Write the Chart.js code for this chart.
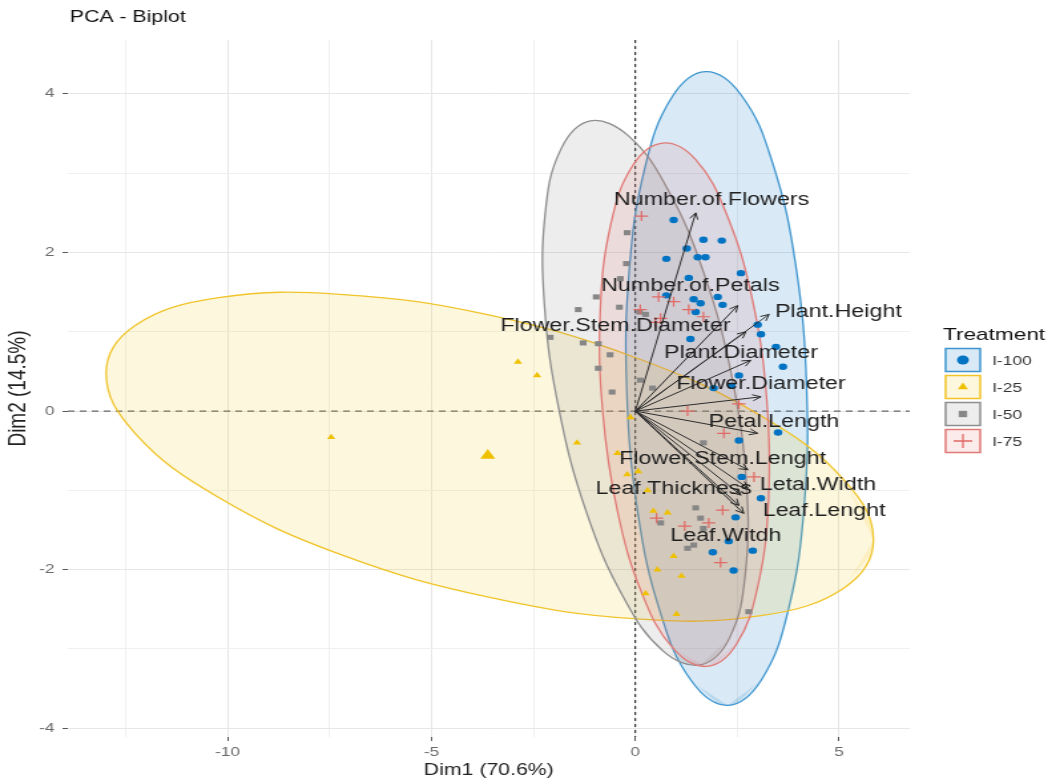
<!DOCTYPE html>
<html>
<head>
<meta charset="utf-8">
<script src="https://cdn.jsdelivr.net/npm/chart.js@4.4.1/dist/chart.umd.min.js"></script>
<style>
  html, body { margin: 0; padding: 0; background: #fff; overflow: hidden; }
  /* the original figure is stretched sideways, so draw narrow and widen it */
  #wrap { width: 794px; height: 783px; transform: scaleX(1.33); transform-origin: 0 0; }
</style>
</head>
<body>
<div id="wrap"><canvas id="Biplot" width="794" height="783"></canvas></div>
<script>

// groups
const groups = ['I-100', 'I-25', 'I-50', 'I-75'];
const groupColors = ['#0073C2', '#EFC000', '#868686', '#E06A66'];
const ellipseLines = ['#3D95CF', '#F0C42A', '#8E8E8E', '#E07A76'];
const fillColors = ['rgba(0,115,194,0.15)', 'rgba(239,192,0,0.13)', 'rgba(134,134,134,0.15)', 'rgba(224,98,94,0.13)'];
const pointStyles = ['circle', 'triangle', 'rect', 'cross'];

// individuals
const i100X = [0.94,1.67,2.12,0.76,1.53,1.72,1.26,2.59,1.31,0.76,1.43,1.60,2.02,2.14,1.48,3.00,3.08,1.35,3.45,3.62,2.54,1.92,2.36,3.50,2.54,2.61,3.08,2.46,2.29,2.88,1.90,2.41];
const i100Y = [2.41,2.16,2.15,1.92,1.94,1.94,2.05,1.74,1.68,1.46,1.41,1.36,1.44,1.34,1.25,1.09,0.97,0.91,0.81,0.56,0.45,0.29,0.32,-0.27,-0.37,-0.83,-1.10,-1.34,-1.64,-1.76,-1.78,-2.01];

const i25X = [-7.46,-2.88,-2.41,-1.43,-0.12,-0.44,-0.20,0.07,0.30,0.44,0.79,0.94,0.54,1.13,0.25,1.01];
const i25Y = [-0.33,0.62,0.45,-0.40,-0.08,-0.53,-0.80,-0.76,-1.00,-1.26,-1.28,-1.83,-2.00,-2.08,-2.30,-2.56];

const i50X = [-0.20,-0.22,-0.37,-0.96,-1.40,-0.39,0.10,0.25,-2.09,-1.28,-0.91,-0.91,-0.62,0.12,0.42,-0.57,1.67,1.48,0.62,1.60,1.67,1.28,1.43,2.78];
const i50Y = [2.25,1.86,1.67,1.44,1.28,1.31,1.25,1.22,0.93,0.86,0.85,0.54,0.71,0.39,0.29,0.24,-0.40,-1.22,-1.41,-1.35,-1.48,-1.73,-1.69,-2.53];

const i75X = [0.15,0.57,0.94,1.67,1.31,0.12,0.62,0.49,1.28,2.54,2.17,2.91,2.14,1.21,0.52,1.80,2.09];
const i75Y = [2.46,1.44,1.38,1.19,1.28,1.28,1.17,1.12,0.00,0.09,-0.28,-0.83,-1.25,-1.45,-1.35,-1.41,-1.91];

// group mean (only the I-25 one shows)
const meanX = [-3.62];
const meanY = [-0.56];

// concentration ellipses, outline points (closed loops)
const ell100X = [2.27,3.09,3.75,4.14,4.20,3.93,3.36,2.59,1.72,0.90,0.24,-0.15,-0.21,0.06,0.63,1.40];
const ell100Y = [-3.71,-3.39,-2.51,-1.21,0.32,1.85,3.14,3.99,4.28,3.96,3.08,1.78,0.24,-1.28,-2.57,-3.42];

const ell25X = [5.84,5.12,3.08,0.03,-3.57,-7.17,-10.22,-12.27,-12.98,-12.27,-10.22,-7.17,-3.57,0.03,3.08,5.12];
const ell25Y = [-1.63,-0.87,-0.06,0.67,1.21,1.47,1.43,1.08,0.48,-0.28,-1.09,-1.82,-2.35,-2.62,-2.58,-2.23];

const ell50X = [1.60,2.31,2.70,2.72,2.36,1.68,0.78,-0.19,-1.11,-1.82,-2.21,-2.23,-1.87,-1.19,-0.29,0.69];
const ell50Y = [-3.20,-2.86,-2.04,-0.88,0.45,1.74,2.81,3.48,3.66,3.31,2.50,1.34,0.01,-1.29,-2.35,-3.03];

const ell75X = [1.75,2.48,3.01,3.27,3.22,2.86,2.24,1.48,0.67,-0.06,-0.60,-0.86,-0.80,-0.44,0.17,0.94];
const ell75Y = [-3.22,-2.94,-2.19,-1.10,0.17,1.43,2.48,3.17,3.38,3.10,2.36,1.27,-0.01,-1.26,-2.31,-3.00];

// variables (arrows)
const varNames = ['Number.of.Flowers','Number.of.Petals','Plant.Height','Flower.Stem.Diameter','Plant.Diameter','Flower.Diameter','Petal.Length','Flower.Stem.Lenght','Letal.Width','Leaf.Thickness','Leaf.Lenght','Leaf.Witdh'];
const varX = [1.48,2.51,3.28,2.71,2.83,3.08,3.00,2.76,2.76,2.59,2.66,2.54];
const varY = [2.50,1.33,1.22,1.00,0.64,0.18,-0.28,-0.74,-0.97,-1.06,-1.29,-1.19];
const labelX = [1.87,1.35,4.98,-0.49,2.59,3.08,3.40,2.14,4.48,0.94,4.63,2.22];
const labelY = [2.66,1.57,1.25,1.07,0.73,0.34,-0.14,-0.61,-0.93,-0.98,-1.26,-1.58];

// axes
const xTicks = [-12.5,-10,-7.5,-5,-2.5,0,2.5,5];
const xTickLabels = ['','-10','','-5','','0','','5'];
const yTicks = [-4,-3,-2,-1,0,1,2,3,4];
const yTickLabels = ['-4','','-2','','0','','2','','4'];

const FONT = '"Liberation Sans", Arial, sans-serif';

function pairUp(xs, ys) {
    return xs.map((v, i) => ({x: v, y: ys[i]}));
}

function ellipseSet(i, xs, ys) {
    // close the loop: one point of overlap on each end keeps the curve smooth at the seam
    const pts = pairUp(xs, ys);
    const n = pts.length;
    const data = [pts[n-1]].concat(pts, [pts[0], pts[1]]);
    const last = data.length - 1;
    return {
        type: 'line',
        label: groups[i] + ' ellipse',
        data: data,
        borderColor: ellipseLines[i],
        backgroundColor: fillColors[i],
        borderWidth: 1.3,
        pointRadius: 0,
        tension: 0.4,
        fill: 'shape',
        segment: {
            borderColor: (c) => (c.p0DataIndex === 0 || c.p1DataIndex === last ? 'rgba(0,0,0,0)' : undefined)
        },
        order: 13 - i
    };
}

function pointSet(i, xs, ys, r) {
    return {
        type: 'scatter',
        label: groups[i],
        data: pairUp(xs, ys),
        pointStyle: pointStyles[i],
        pointRadius: r,
        backgroundColor: groupColors[i],
        borderColor: groupColors[i],
        borderWidth: pointStyles[i] == 'cross' ? 1.2 : 0,
        order: 3 - i
    };
}

const biplotDecor = {
    id: 'biplotDecor',
    beforeDatasetsDraw(chart) {
        const {ctx, chartArea: a, scales: {x, y}} = chart;
        const x0 = x.getPixelForValue(0), y0 = y.getPixelForValue(0);
        ctx.save();
        ctx.strokeStyle = '#444';
        ctx.lineWidth = 1;
        ctx.setLineDash([5, 4]);
        ctx.beginPath(); ctx.moveTo(a.left, y0); ctx.lineTo(a.right, y0); ctx.stroke();
        ctx.strokeStyle = '#111';
        ctx.setLineDash([3, 3]);
        ctx.beginPath(); ctx.moveTo(x0, a.top); ctx.lineTo(x0, a.bottom); ctx.stroke();
        ctx.restore();
    },
    afterDatasetsDraw(chart) {
        const {ctx, scales: {x, y}} = chart;
        const ox = x.getPixelForValue(0), oy = y.getPixelForValue(0);
        ctx.save();
        ctx.strokeStyle = '#2b2b2b';
        ctx.lineWidth = 1;
        for (let i = 0; i < varNames.length; i++) {
            const px = x.getPixelForValue(varX[i]), py = y.getPixelForValue(varY[i]);
            ctx.beginPath(); ctx.moveTo(ox, oy); ctx.lineTo(px, py); ctx.stroke();
            const ang = Math.atan2(py - oy, px - ox);
            ctx.beginPath();
            ctx.moveTo(px - 7*Math.cos(ang - 0.45), py - 7*Math.sin(ang - 0.45));
            ctx.lineTo(px, py);
            ctx.lineTo(px - 7*Math.cos(ang + 0.45), py - 7*Math.sin(ang + 0.45));
            ctx.stroke();
        }
        ctx.fillStyle = '#1e1e1e';
        ctx.font = '17.5px ' + FONT;
        ctx.textAlign = 'center';
        ctx.textBaseline = 'middle';
        for (let i = 0; i < varNames.length; i++) {
            ctx.fillText(varNames[i], x.getPixelForValue(labelX[i]), y.getPixelForValue(labelY[i]));
        }
        ctx.restore();
    },
    afterDraw(chart) {
        const ctx = chart.ctx;
        ctx.save();
        // title
        ctx.fillStyle = '#111';
        ctx.font = '16px ' + FONT;
        ctx.textAlign = 'left';
        ctx.textBaseline = 'middle';
        ctx.fillText('PCA - Biplot', 52.5, 18);
        // legend
        ctx.font = '17px ' + FONT;
        ctx.fillText('Treatment', 709, 335);
        ctx.font = '13px ' + FONT;
        for (let i = 0; i < groups.length; i++) {
            const cy = 360 + i*27;
            ctx.fillStyle = fillColors[i];
            ctx.strokeStyle = ellipseLines[i];
            ctx.lineWidth = 1.5;
            ctx.fillRect(711, cy - 11.5, 26, 23);
            ctx.strokeRect(711, cy - 11.5, 26, 23);
            ctx.fillStyle = groupColors[i];
            ctx.strokeStyle = groupColors[i];
            ctx.lineWidth = 1.3;
            Chart.helpers.drawPoint(ctx, {pointStyle: pointStyles[i], radius: pointStyles[i] == 'cross' ? 7 : 4.5, borderWidth: pointStyles[i] == 'cross' ? 1.3 : 0, rotation: 0}, 724, cy);
            ctx.fillStyle = '#333';
            ctx.fillText(groups[i], 746, cy + 1);
        }
        ctx.restore();
    }
};

const gridColor = (ctx) => (ctx.tick && ctx.tick.label !== '' ? '#E6E6E6' : '#F0F0F0');
const tickColor = (ctx) => (ctx.tick && ctx.tick.label !== '' ? '#555' : 'rgba(0,0,0,0)');

const biplot_chart = new Chart(document.getElementById('Biplot'), {
    type: 'scatter',
    data: {
        datasets: [
            pointSet(0, i100X, i100Y, 3.2),
            pointSet(1, i25X, i25Y, 3.6),
            pointSet(2, i50X, i50Y, 3.6),
            pointSet(3, i75X, i75Y, 5),
            Object.assign(pointSet(1, meanX, meanY, 6.5), {label: 'I-25 mean', order: 1}),
            ellipseSet(0, ell100X, ell100Y),
            ellipseSet(1, ell25X, ell25Y),
            ellipseSet(2, ell50X, ell50Y),
            ellipseSet(3, ell75X, ell75Y)
        ]
    },
    options: {
        responsive: false,
        animation: false,
        layout: { padding: { top: 40, right: 110, left: 0, bottom: 0 } },
        scales: {
            x: {
                type: 'linear',
                min: -13.92,
                max: 6.73,
                afterBuildTicks: (s) => { s.ticks = xTicks.map(v => ({value: v})); },
                afterFit: (s) => { s.height = 46; },
                ticks: {
                    autoSkip: false,
                    maxRotation: 0,
                    padding: 4,
                    color: '#6a6a6a',
                    font: { family: FONT, size: 13 },
                    callback: (v, i) => xTickLabels[i]
                },
                grid: { color: gridColor, tickColor: tickColor, tickLength: 4, lineWidth: 1 },
                border: { display: false },
                title: { display: true, text: 'Dim1 (70.6%)', color: '#222', font: { family: FONT, size: 16 }, padding: { top: 0, bottom: 3 } }
            },
            y: {
                type: 'linear',
                min: -4.11,
                max: 4.68,
                afterBuildTicks: (s) => { s.ticks = yTicks.map(v => ({value: v})); },
                afterFit: (s) => { s.width = 51; },
                ticks: {
                    autoSkip: false,
                    padding: 6,
                    color: '#6a6a6a',
                    font: { family: FONT, size: 13 },
                    callback: (v, i) => yTickLabels[i]
                },
                grid: { color: gridColor, tickColor: tickColor, tickLength: 4, lineWidth: 1 },
                border: { display: false },
                title: { display: true, text: 'Dim2 (14.5%)', color: '#222', font: { family: FONT, size: 19 }, padding: { top: 2, bottom: 0 } }
            }
        },
        plugins: {
            legend: { display: false },
            tooltip: { enabled: false },
            title: { display: false }
        }
    },
    plugins: [biplotDecor]
});

</script>
</body>
</html>
